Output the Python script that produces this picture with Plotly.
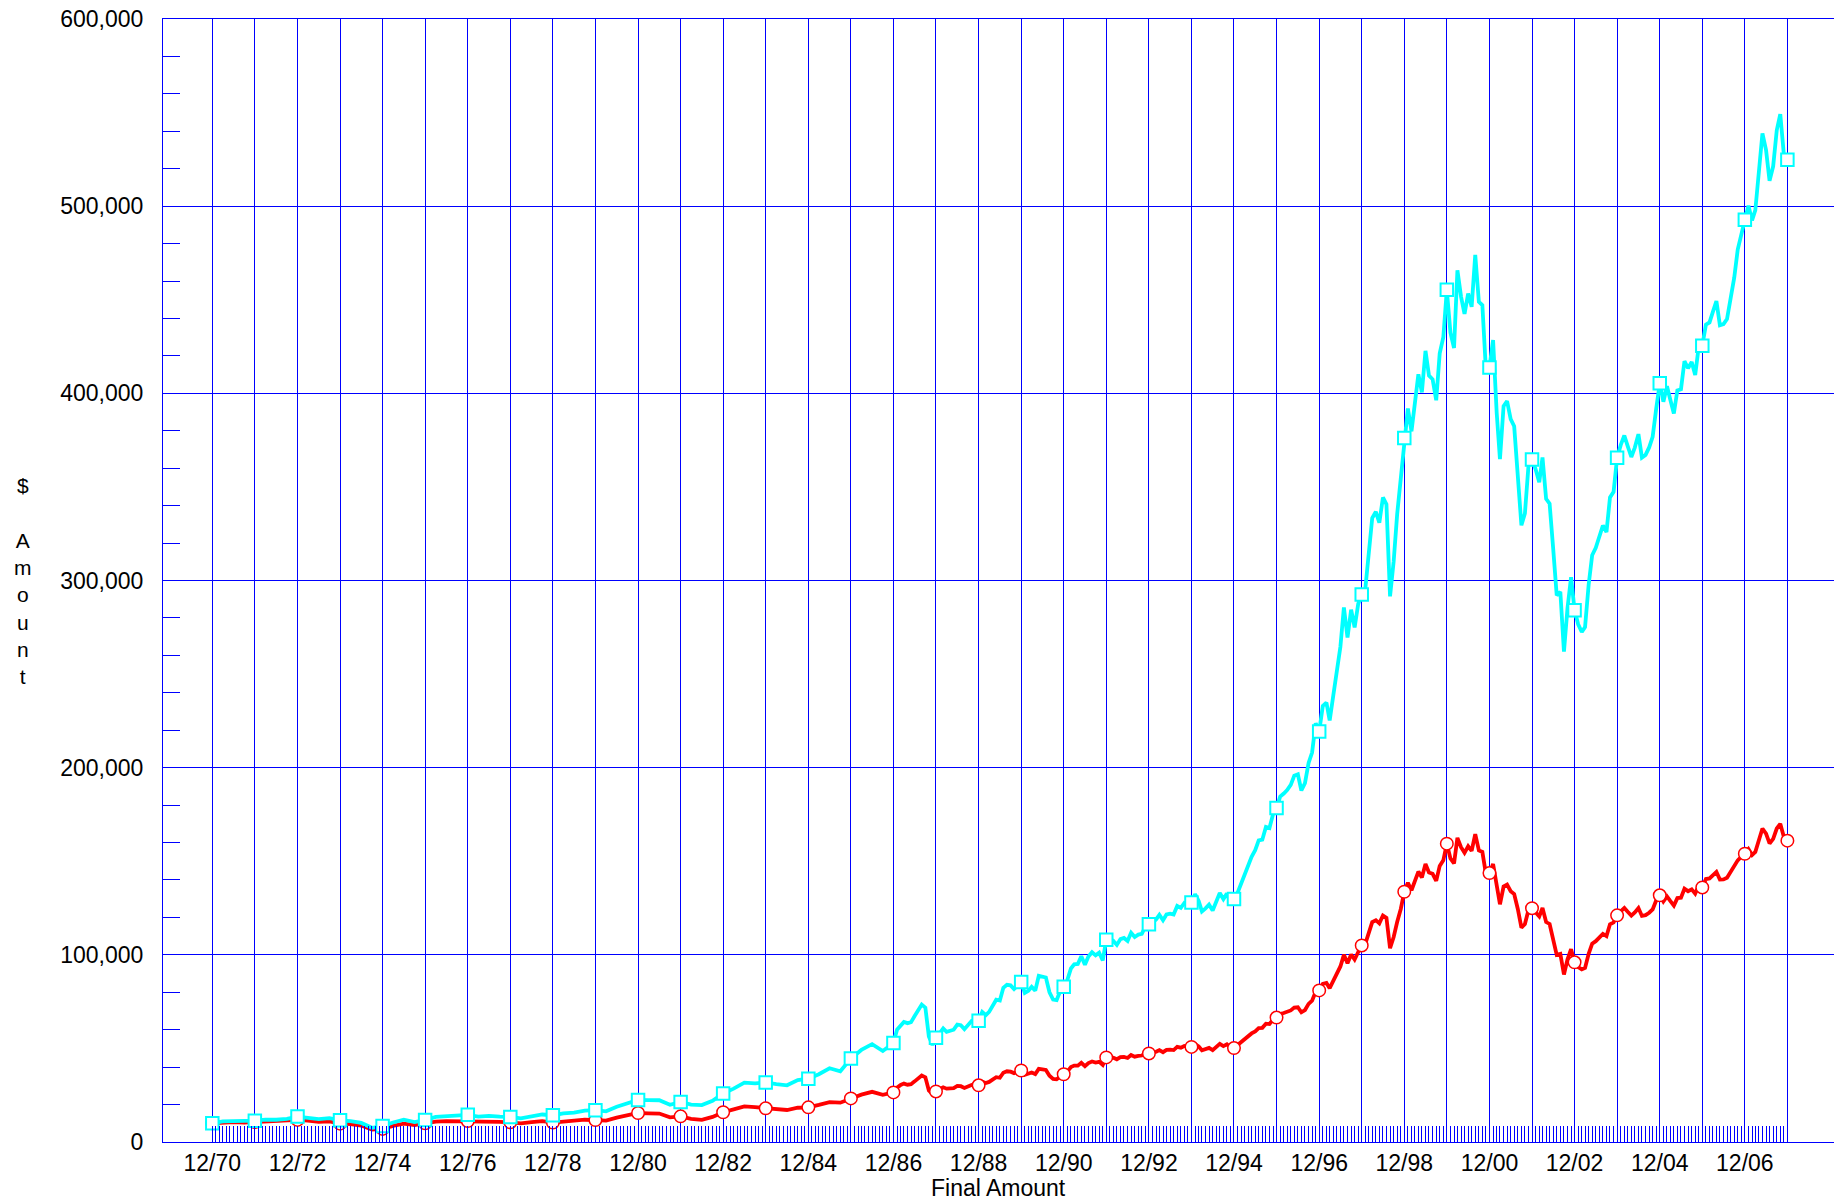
import plotly.graph_objects as go
import pandas as pd

# ---- x positions: quarterly 12/70-12/86, monthly 1/87-12/07 ----
dates = (["1970-12-01"]
         + [f"{y}-{m:02d}-01" for y in range(1971, 1987) for m in (3, 6, 9, 12)]
         + [f"{y}-{m:02d}-01" for y in range(1987, 2008) for m in range(1, 13)])

# ---- Cyan series (index), values in $ thousands ----
index_k = [
    10.0,
    11.0, 11.1, 11.0, 11.4,   # 1971
    12.0, 11.9, 12.4, 13.6,   # 1972
    12.9, 12.2, 12.7, 11.6,   # 1973
    11.2, 10.2, 7.6, 8.5,     # 1974
    10.4, 11.9, 10.6, 11.7,   # 1975
    13.4, 13.7, 14.0, 14.5,   # 1976
    13.6, 14.0, 13.6, 13.4,   # 1977
    12.6, 13.6, 14.7, 14.3,   # 1978
    15.3, 15.7, 16.8, 17.0,   # 1979
    16.4, 18.8, 20.9, 22.5,   # 1980
    22.4, 22.3, 19.9, 21.4,   # 1981
    20.0, 19.7, 22.0, 25.9,   # 1982
    28.5, 31.7, 31.3, 31.8,   # 1983
    30.9, 30.3, 33.1, 33.8,   # 1984
    36.2, 39.4, 37.8, 44.6,   # 1985
    49.2, 52.3, 48.6, 52.9,   # 1986
    60.0, 62.4, 64.1, 63.5, 64.0, 67.3, 70.6, 73.4, 71.8, 56.4, 51.8, 55.7,          # 1987
    58.1, 60.7, 58.9, 59.5, 60.0, 62.7, 62.4, 60.3, 62.9, 64.6, 63.7, 64.8,          # 1988
    69.5, 67.8, 69.5, 73.1, 76.0, 75.6, 82.4, 84.0, 83.7, 81.7, 83.4, 85.5,          # 1989
    79.7, 80.8, 82.9, 80.9, 88.8, 88.2, 87.9, 80.0, 76.1, 75.8, 80.7, 82.9,          # 1990
    86.5, 92.7, 94.9, 95.1, 99.2, 94.7, 99.1, 101.4, 99.7, 101.1, 97.0, 108.0,       # 1991
    106.0, 107.4, 105.3, 108.4, 109.0, 107.4, 111.8, 109.5, 110.8, 111.2, 115.0, 116.4,  # 1992
    117.3, 118.9, 121.4, 118.5, 121.6, 122.0, 121.5, 126.1, 125.1, 127.7, 126.5, 128.0,  # 1993
    132.4, 128.8, 123.2, 124.8, 126.8, 123.7, 127.8, 133.0, 129.8, 132.7, 127.9, 129.8,  # 1994
    133.2, 138.3, 142.4, 146.6, 152.4, 155.9, 161.1, 161.5, 168.3, 167.7, 175.1, 178.4,  # 1995
    184.5, 186.2, 188.0, 190.8, 195.7, 196.4, 187.8, 191.7, 202.5, 208.1, 223.8, 219.3,  # 1996
    233.0, 234.8, 225.2, 238.6, 253.2, 264.6, 285.6, 269.6, 284.4, 274.9, 287.6, 292.5,  # 1997
    295.8, 317.1, 333.3, 336.7, 330.9, 344.4, 340.7, 291.5, 310.2, 335.4, 355.7, 376.2,  # 1998
    391.9, 379.7, 394.9, 410.2, 400.5, 422.7, 409.5, 407.5, 396.3, 421.4, 430.0, 455.3,  # 1999
    432.4, 424.2, 465.7, 451.7, 442.4, 453.3, 446.2, 474.0, 448.9, 447.1, 411.8, 413.8,  # 2000
    428.5, 389.5, 364.8, 393.2, 395.8, 386.2, 382.4, 358.5, 329.5, 335.8, 361.6, 364.7,  # 2001
    359.4, 352.5, 365.7, 343.6, 341.0, 316.7, 292.0, 293.9, 262.0, 285.0, 301.8, 284.1,  # 2002
    276.6, 272.5, 275.1, 297.8, 313.5, 317.5, 323.1, 329.4, 325.9, 344.4, 347.4, 365.6,  # 2003
    372.3, 377.5, 371.8, 366.0, 371.0, 378.2, 365.7, 367.1, 371.1, 376.8, 392.0, 405.4,  # 2004
    395.5, 403.8, 396.7, 389.2, 401.6, 402.2, 417.2, 413.4, 416.7, 409.8, 425.3, 425.4,  # 2005
    436.7, 437.9, 443.4, 449.3, 436.4, 437.0, 439.7, 450.2, 461.8, 476.8, 485.9, 492.7,  # 2006
    500.2, 492.4, 497.9, 520.8, 538.9, 530.0, 513.6, 521.3, 540.6, 549.2, 527.4, 524.8,  # 2007
]

# ---- Red series (fund), values in $ thousands ----
fund_k = [
    10.0,
    10.4, 10.6, 10.4, 10.6,   # 1971
    11.0, 11.1, 11.3, 11.8,   # 1972
    11.4, 10.8, 11.0, 9.8,    # 1973
    9.6, 8.8, 6.6, 7.0,       # 1974
    8.6, 9.8, 9.0, 10.0,      # 1975
    10.9, 11.1, 11.1, 11.2,   # 1976
    10.8, 11.0, 10.7, 10.5,   # 1977
    10.0, 10.6, 11.2, 10.4,   # 1978
    11.0, 11.3, 11.9, 11.7,   # 1979
    11.4, 13.0, 14.4, 15.5,   # 1980
    15.3, 15.2, 13.2, 13.7,   # 1981
    12.4, 11.8, 13.4, 15.9,   # 1982
    17.4, 19.0, 18.6, 18.0,   # 1983
    17.4, 17.1, 18.3, 18.5,   # 1984
    19.8, 21.3, 21.0, 23.3,   # 1985
    25.3, 26.8, 25.2, 26.5,   # 1986
    29.0, 30.5, 31.2, 30.6, 30.9, 32.4, 33.9, 35.5, 34.6, 27.5, 25.6, 27.0,          # 1987
    28.2, 29.2, 28.5, 28.7, 28.8, 30.0, 29.8, 28.9, 29.9, 30.5, 30.0, 30.3,          # 1988
    32.2, 31.5, 32.1, 33.5, 34.6, 34.3, 37.0, 37.8, 37.6, 36.8, 37.4, 38.2,          # 1989
    35.9, 36.4, 37.1, 36.3, 39.1, 38.8, 38.5, 35.4, 33.7, 33.5, 35.2, 36.2,          # 1990
    37.6, 40.0, 40.8, 40.8, 42.3, 40.5, 42.2, 43.0, 42.4, 42.8, 41.2, 45.2,          # 1991
    44.5, 45.0, 44.2, 45.3, 45.5, 44.9, 46.5, 45.6, 46.0, 46.2, 47.5, 47.3,          # 1992
    47.6, 48.2, 49.1, 48.0, 49.2, 49.3, 49.1, 50.8, 50.4, 51.3, 50.9, 50.8,          # 1993
    52.3, 51.0, 49.0, 49.6, 50.3, 49.1, 50.6, 52.4, 51.2, 52.2, 50.5, 50.2,          # 1994
    51.8, 53.5, 54.9, 56.2, 58.0, 59.1, 60.8, 61.0, 63.2, 63.0, 65.3, 66.5,          # 1995
    68.4, 68.9, 69.5, 70.3, 71.8, 72.0, 69.3, 70.5, 73.8, 75.5, 80.3, 81.0,          # 1996
    84.5, 85.0, 82.2, 86.2, 90.5, 93.8, 100.0, 95.5, 100.2, 97.5, 101.5, 105.0,      # 1997
    106.0, 112.5, 117.5, 118.5, 116.8, 121.0, 119.8, 103.5, 109.5, 117.5, 124.5, 133.7,  # 1998
    138.5, 134.5, 139.5, 144.5, 141.3, 148.5, 144.0, 143.3, 139.5, 147.5, 150.5, 159.4,  # 1999
    151.5, 148.8, 162.5, 157.5, 154.5, 158.0, 155.5, 164.5, 155.8, 155.0, 143.0, 143.7,  # 2000
    148.5, 135.5, 127.0, 136.5, 137.5, 134.0, 132.5, 124.5, 114.5, 116.5, 124.0, 124.9,  # 2001
    122.8, 120.5, 125.0, 117.5, 116.5, 108.5, 100.0, 100.5, 89.5, 97.5, 103.0, 96.0,     # 2002
    93.5, 92.2, 93.0, 100.5, 106.0, 107.3, 109.0, 111.2, 110.0, 116.3, 117.3, 121.1,     # 2003
    123.3, 125.0, 123.0, 121.0, 122.7, 125.0, 120.8, 121.2, 122.5, 124.3, 129.2, 131.8,  # 2004
    128.5, 131.2, 128.8, 126.3, 130.3, 130.5, 135.3, 134.0, 135.0, 132.7, 137.0, 136.0,  # 2005
    140.5, 140.8, 142.5, 144.3, 140.2, 140.3, 141.2, 144.5, 148.2, 150.5, 152.5, 154.0,  # 2006
    156.5, 153.3, 155.0, 161.8, 167.5, 164.8, 159.5, 162.0, 167.5, 170.0, 163.0, 161.0,  # 2007
]

assert len(dates) == len(index_k) == len(fund_k), (len(dates), len(index_k), len(fund_k))

index_vals = [v * 1000 for v in index_k]
fund_vals = [v * 1000 for v in fund_k]

# year-end (December) points carry the markers and the vertical grid
dec_idx = [i for i, d in enumerate(dates) if d[5:7] == "12"]
dec_dates = [dates[i] for i in dec_idx]
dec_labels = [pd.Timestamp(d).strftime("%m/%y") if (pd.Timestamp(d).year - 1970) % 2 == 0 else ""
              for d in dec_dates]
month_ticks = [d.strftime("%Y-%m-%d") for d in pd.date_range(dates[0], dates[-1], freq="MS")]

BLUE = "#0000ff"
CYAN = "#00ffff"
RED = "#ff0000"

fig = go.Figure()
fig.add_trace(go.Scatter(x=dates, y=fund_vals, mode="lines",
                         line=dict(color=RED, width=3.8), hoverinfo="skip"))
fig.add_trace(go.Scatter(x=dec_dates, y=[fund_vals[i] for i in dec_idx], mode="markers",
                         marker=dict(symbol="circle", size=12.5, color="white",
                                     line=dict(color=RED, width=1.5)), hoverinfo="skip"))
fig.add_trace(go.Scatter(x=dates, y=index_vals, mode="lines",
                         line=dict(color=CYAN, width=3.8), hoverinfo="skip"))
fig.add_trace(go.Scatter(x=dec_dates, y=[index_vals[i] for i in dec_idx], mode="markers",
                         marker=dict(symbol="square", size=12.5, color="white",
                                     line=dict(color=CYAN, width=2)), hoverinfo="skip"))

FONT = "Liberation Sans, Arial, Helvetica, sans-serif"

# page body has an 8px margin: figure is sized/offset so the plot lands where the reference has it
fig.update_layout(
    width=1834, height=1195,
    margin=dict(l=155, r=8, t=11, b=61, autoexpand=False),
    plot_bgcolor="white", paper_bgcolor="white",
    showlegend=False,
    font=dict(family=FONT, size=23, color="black"),
    xaxis=dict(
        type="date", range=["1969-10-04", "2009-01-04"],
        tickmode="array", tickvals=dec_dates, ticktext=dec_labels,
        showgrid=True, gridcolor=BLUE, gridwidth=1,
        showline=True, linecolor=BLUE, linewidth=1, mirror=True,
        ticks="", zeroline=False, automargin=False,
        tickfont=dict(family=FONT, size=23, color="black"),
        minor=dict(tickmode="array", tickvals=month_ticks, ticks="inside",
                   ticklen=16, tickcolor=BLUE, tickwidth=1, showgrid=False),
    ),
    yaxis=dict(
        range=[0, 600000], tickmode="linear", tick0=0, dtick=100000,
        tickformat=",d",
        showgrid=True, gridcolor=BLUE, gridwidth=1,
        showline=True, linecolor=BLUE, linewidth=1, mirror=True,
        ticks="", zeroline=False, ticklabelstandoff=14,
        ticklabeloverflow="allow", automargin=False,
        tickfont=dict(family=FONT, size=23, color="black"),
        minor=dict(dtick=20000, tick0=0, ticks="inside", ticklen=17,
                   tickcolor=BLUE, tickwidth=1, showgrid=False),
    ),
    annotations=[
        dict(text="Final Amount", xref="paper", yref="paper", x=0.5, y=-0.041,
             xanchor="center", yanchor="middle", showarrow=False,
             font=dict(family=FONT, size=23, color="black")),
        dict(text="$<br><br>A<br>m<br>o<br>u<br>n<br>t", xref="paper", yref="paper",
             x=-0.0835, y=0.5, xanchor="center", yanchor="middle", showarrow=False,
             font=dict(family=FONT, size=21, color="black")),
    ],
)

fig.write_html("out.html")
